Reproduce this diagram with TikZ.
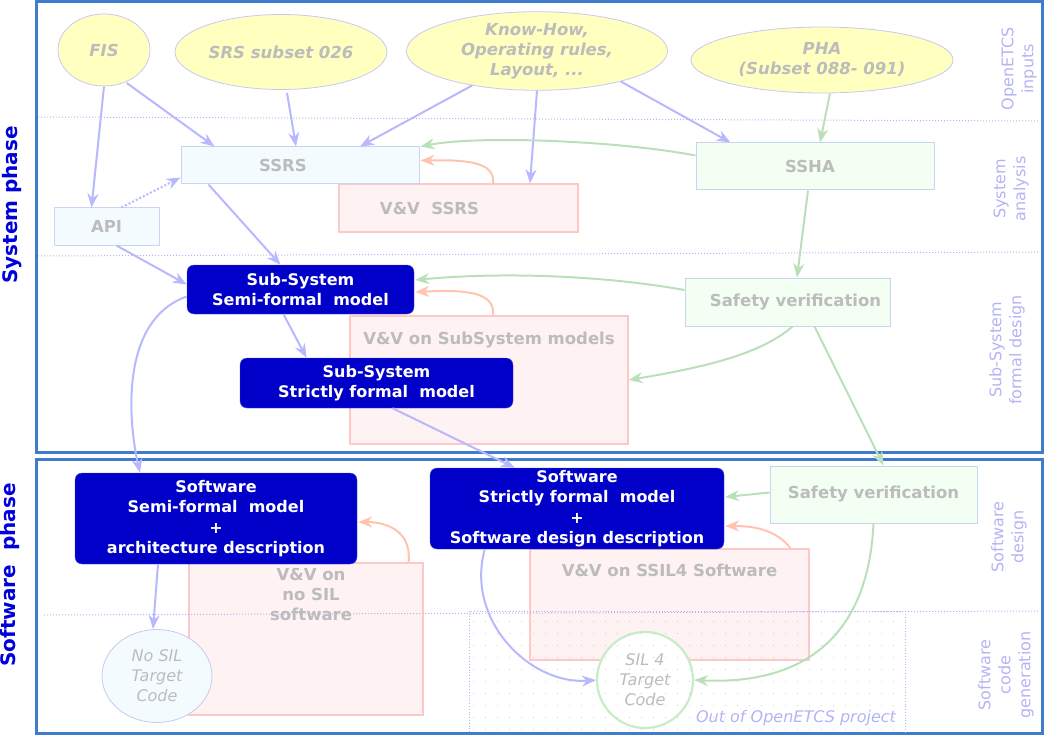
\documentclass[tikz,border=0pt]{standalone}
\usepackage{fontspec}
\setmainfont{DejaVu Sans}
\usetikzlibrary{shapes.geometric,arrows.meta,patterns.meta}
\definecolor{frameblue}{RGB}{64,124,204}
\definecolor{nodeblue}{RGB}{0,0,200}
\definecolor{greytxt}{RGB}{188,188,188}
\definecolor{arrblue}{RGB}{184,184,255}
\definecolor{arrgreen}{RGB}{186,224,186}
\definecolor{arrsalmon}{RGB}{255,196,176}
\definecolor{lblpurple}{RGB}{180,180,245}
\definecolor{ellfill}{RGB}{255,255,192}
\definecolor{ellborder}{RGB}{200,200,240}
\definecolor{bluefill}{RGB}{244,251,255}
\definecolor{blueborder}{RGB}{200,212,240}
\definecolor{pinkfill}{RGB}{255,242,242}
\definecolor{pinkborder}{RGB}{255,200,200}
\definecolor{greenfill}{RGB}{242,255,242}
\definecolor{greenborder}{RGB}{200,236,200}
\definecolor{phaseblue}{RGB}{0,0,220}
\tikzdeclarepattern{name=sparsedots, type=uncolored,
  bounding box={(0pt,0pt) and (12pt,12pt)}, tile size={(12pt,12pt)},
  code={\pgfpathcircle{\pgfpoint{6pt}{6pt}}{0.5pt}\pgfusepath{fill}}}
\begin{document}
\begin{tikzpicture}[x=1pt,y=-1pt,
  ell/.style={ellipse, draw=ellborder, fill=ellfill, line width=0.8pt, inner sep=0pt,
    font=\bfseries\itshape\fontsize{16.5}{20}\selectfont, text=greytxt, align=center},
  sbox/.style={rectangle, draw=blueborder, fill=bluefill, line width=1pt, inner sep=0pt,
    font=\bfseries\fontsize{16.5}{20}\selectfont, text=greytxt, align=center},
  gbox/.style={sbox, fill=greenfill},
  pbox/.style={sbox, draw=pinkborder, fill=pinkfill, line width=1.2pt},
  bbox/.style={rectangle, rounded corners=7pt, draw=nodeblue!70!white, fill=nodeblue, inner sep=0pt,
    font=\bfseries\fontsize{16}{20.5}\selectfont, text=white, align=center},
  gtext/.style={font=\bfseries\fontsize{16.5}{20}\selectfont, text=greytxt, align=center, inner sep=0pt},
  itext/.style={font=\itshape\fontsize{16}{20}\selectfont, text=greytxt, align=center, inner sep=0pt},
  lbl/.style={font=\fontsize{16}{20}\selectfont, text=lblpurple, rotate=90, align=center, inner sep=0pt},
  phase/.style={font=\bfseries\fontsize{20}{24}\selectfont, text=phaseblue, rotate=90, inner sep=0pt},
  sep/.style={draw=lblpurple, dotted, line width=1pt},
  arr/.style={line width=2pt, -{Stealth[length=14pt,width=11pt,inset=4.5pt]}},
  barr/.style={arr, draw=arrblue},
  garr/.style={arr, draw=arrgreen},
  sarr/.style={arr, draw=arrsalmon},
  frame/.style={draw=frameblue, line width=3pt}
]
\useasboundingbox (0,0) rectangle (1048,735);
% frames
\draw[frame] (36,2) rectangle (1042,452);
\draw[frame] (36,459) rectangle (1042,733);
% phase labels
\node[phase] (sysph) at (12,205) {System phase};
\node[phase] (swph) at (10,575) {Software\ \ phase};
% right labels
\node[lbl] (l1) at (1019,69) {OpenETCS\\inputs};
\node[lbl] (l2) at (1011,189) {System\\analysis};
\node[lbl] (l3) at (1007,350) {Sub-System\\formal design};
\node[lbl] (l4) at (1009,537) {Software\\design};
\node[lbl] (l5) at (1006,675) {Software\\code\\generation};
% inputs
\node[ell, minimum width=92pt, minimum height=72pt] (fis) at (104,50) {FIS};
\node[ell, minimum width=212pt, minimum height=75pt] (srs) at (281,52) {SRS subset 026};
\node[ell, minimum width=261pt, minimum height=78pt] (know) at (537,51) {Know-How,\\Operating rules,\\Layout, ...};
\node[ell, minimum width=262pt, minimum height=66pt] (pha) at (822,60) {PHA\\(Subset 088- 091)};
% system analysis
\node[pbox, minimum width=239pt, minimum height=48pt] (vvssrs) at (458.5,208) {V\&V\ \ SSRS\hspace*{58pt}};
\node[sbox, minimum width=238pt, minimum height=37pt] (ssrs) at (300,165.5) {SSRS\hspace*{34pt}};
\node[sbox, minimum width=105pt, minimum height=37pt] (api) at (106.5,226.5) {API};
\node[gbox, minimum width=238pt, minimum height=47pt] (ssha) at (815,166.5) {SSHA\hspace*{10pt}};
% sub-system
\node[pbox, minimum width=278pt, minimum height=128pt,
  label={[gtext, anchor=north, yshift=-16pt]north:V\&V on SubSystem models}] (vvsub) at (489,380) {};
\node[bbox, minimum width=227pt, minimum height=49pt] (sss) at (300.5,289.5) {Sub-System\\Semi-formal\ \ model};
\node[bbox, minimum width=273pt, minimum height=50pt] (sst) at (376.5,383) {Sub-System\\Strictly formal\ \ model};
\node[gbox, minimum width=205pt, minimum height=48pt] (sv1) at (787.5,302) {\hspace*{16pt}Safety verification};
% software
\node[pbox, minimum width=234pt, minimum height=152pt,
  label={[gtext, anchor=north, yshift=-6pt, xshift=5pt]north:V\&V on\\no SIL\\software}] (vvnosil) at (306,639) {};
\node[pbox, minimum width=279pt, minimum height=111pt,
  label={[gtext, anchor=north, yshift=-15pt]north:V\&V on SSIL4 Software}] (vvssil4) at (669.5,604.5) {};
\node[bbox, minimum width=282pt, minimum height=91pt] (sws) at (216,518.5) {Software\\Semi-formal\ \ model\\+\\architecture description};
\node[bbox, minimum width=294pt, minimum height=81pt] (swst) at (577,508.5) {Software\\Strictly formal\ \ model\\+\\Software design description};
\node[gbox, minimum width=207pt, minimum height=57pt] (sv2) at (873.5,494.5) {Safety verification};
\node[ellipse, draw=ellborder, fill=bluefill, line width=0.8pt, inner sep=0pt, itext,
  minimum width=110pt, minimum height=93pt] (nosil) at (157,676) {No SIL\\Target\\Code};
\node[circle, draw=greenborder, fill=white, line width=2.2pt, inner sep=0pt, itext,
  minimum size=96pt] (sil4) at (645,680) {SIL 4\\Target\\Code};
% out of project
\path[pattern=sparsedots, pattern color=black!25] (469,611) rectangle (905,732);
\draw[sep, line width=0.8pt] (469,732) -- (469,611) -- (905,611) -- (905,732);
\node[font=\itshape\fontsize{16}{20}\selectfont, text=lblpurple, inner sep=0pt] (outp) at (796,718) {Out of OpenETCS project};
% separators
\draw[sep] (38,117) -- (1040,121);
\draw[sep] (38,256) -- (1040,252);
\draw[sep] (44,615) -- (1040,611);
% blue arrows
\draw[barr] (fis.south) -- ([xshift=-15pt]api.north);
\draw[barr] ([xshift=10pt,yshift=2pt]fis.-70) -- ([xshift=34pt]ssrs.north west);
\draw[barr] ([xshift=6pt,yshift=-3pt]srs.south) -- ([xshift=-4pt]ssrs.north);
\draw[barr] (know.-152) -- ([xshift=60pt]ssrs.north);
\draw[barr] (know.south) -- ([xshift=71.5pt]vvssrs.north);
\draw[barr] (know.-20) -- ([xshift=35pt]ssha.north west);
\draw[barr, dotted] ([xshift=15pt]api.north) -- ([yshift=-12pt]ssrs.west);
\draw[barr] ([xshift=28pt]ssrs.south west) -- ([xshift=-20pt]sss.north);
\draw[barr] ([xshift=10pt]api.south) -- ([yshift=5pt]sss.west);
\draw[barr] ([xshift=-17pt]sss.south) -- ([xshift=-70pt]sst.north);
\draw[barr] ([yshift=-7pt]sss.west) .. controls (120,320) and (128,420) .. ([xshift=-76pt]sws.north);
\draw[barr] ([xshift=16pt]sst.south) -- ([xshift=85pt]swst.north west);
\draw[barr] ([xshift=-58pt]sws.south) -- ([xshift=-4pt]nosil.north);
\draw[barr] ([xshift=55pt]swst.south west) .. controls (465,620) and (530,685) .. (sil4.west);
% green arrows
\draw[garr] ([xshift=8pt]pha.south) -- ([xshift=5pt]ssha.north);
\draw[garr] ([yshift=11pt]ssha.west) .. controls (620,141) and (480,135) .. ([xshift=1pt]ssrs.north east);
\draw[garr] ([xshift=-7pt]ssha.south) -- ([xshift=9.5pt]sv1.north);
\draw[garr] ([yshift=12pt]sv1.west) .. controls (600,275) and (500,272) .. ([yshift=9.5pt,xshift=1pt]sss.east);
\draw[garr] ([xshift=5pt]sv1.south) .. controls (760,355) and (700,368) .. (vvsub.east);
\draw[garr] ([xshift=27pt]sv1.south) -- ([xshift=10pt]sv2.north);
\draw[garr] ([yshift=2pt]sv2.west) -- ([yshift=11.5pt,xshift=1pt]swst.east);
\draw[garr] (sv2.south) .. controls (868,640) and (800,685) .. (sil4.east);
% salmon arrows
\draw[sarr] ([xshift=34.5pt]vvssrs.north) .. controls (496,160) and (460,160) .. ([yshift=5pt,xshift=1pt]ssrs.east);
\draw[sarr] ([xshift=4pt]vvsub.north) .. controls (496,290) and (460,290) .. ([yshift=-2.5pt,xshift=1pt]sss.east);
\draw[sarr] ([xshift=-15pt]vvnosil.north east) .. controls (412,530) and (385,522) .. ([yshift=-3.5pt,xshift=1pt]sws.east);
\draw[sarr] ([xshift=-19pt]vvssil4.north east) .. controls (775,528) and (750,526) .. ([yshift=-17.5pt,xshift=1pt]swst.east);
\end{tikzpicture}
\end{document}
